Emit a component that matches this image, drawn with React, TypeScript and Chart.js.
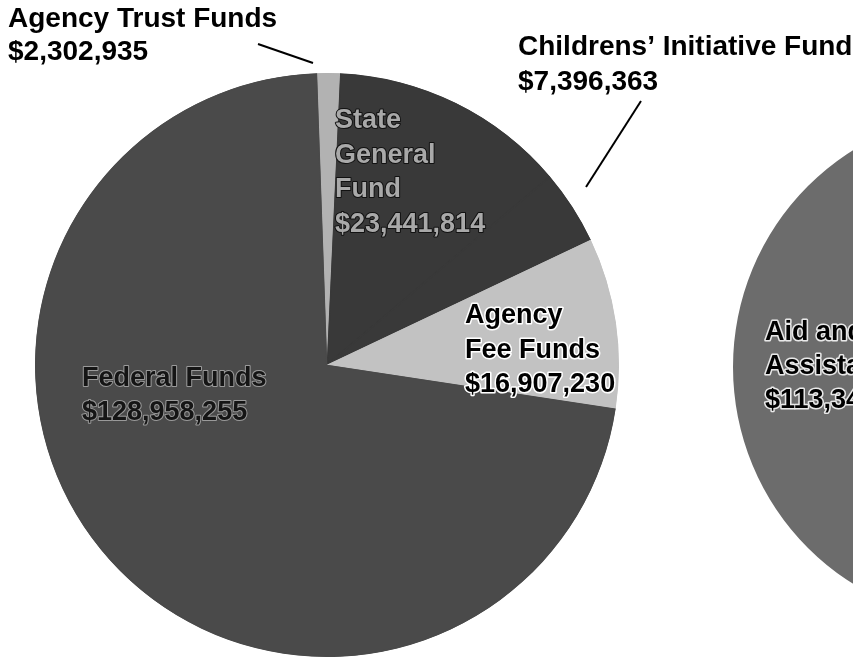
import React, { useEffect, useRef } from "react";
import { Chart, registerables } from "chart.js";

Chart.register(...registerables);

// ---- data ----
const mainCategories = [
  "Agency Trust Funds",
  "State General Fund",
  "Childrens’ Initiative Fund",
  "Agency Fee Funds",
  "Federal Funds",
];
const mainValues = [2302935, 23441814, 7396363, 16907230, 128958255];
const mainColors = ["#b2b2b2", "#393939", "#393939", "#c2c2c2", "#4a4a4a"];

const secondCategories = ["Aid and Assistance"];
const secondValues = [113340000];
const secondColors = ["#6c6c6c"];

const money = (v: number) => "$" + v.toLocaleString("en-US");

type LabelSpec = {
  lines: string[];
  dx: number;
  dy: number;
  lh: number;
  font: string;
  fill: string;
  stroke?: string;
  sw?: number;
  leader?: [number, number, number, number];
};

const FONT_OUT = 'bold 28px "Liberation Sans", Arial, sans-serif';
const FONT_IN = 'bold 27px "Liberation Sans", Arial, sans-serif';

const mainLabels: LabelSpec[] = [
  {
    lines: [mainCategories[0], money(mainValues[0])],
    dx: -319, dy: -338, lh: 33, font: FONT_OUT, fill: "#000",
    leader: [-69, -321, -14, -302],
  },
  {
    lines: ["State", "General", "Fund", money(mainValues[1])],
    dx: 8, dy: -237, lh: 34.7, font: FONT_IN, fill: "#a9a9a9", stroke: "#111", sw: 2,
  },
  {
    lines: [mainCategories[2], money(mainValues[2])],
    dx: 191, dy: -310, lh: 35, font: FONT_OUT, fill: "#000",
    leader: [314, -264, 259, -178],
  },
  {
    lines: ["Agency", "Fee Funds", money(mainValues[3])],
    dx: 138, dy: -42, lh: 34.5, font: FONT_IN, fill: "#000", stroke: "#fff", sw: 3,
  },
  {
    lines: ["Federal Funds", money(mainValues[4])],
    dx: -245, dy: 21, lh: 34, font: FONT_IN, fill: "#151515", stroke: "#9a9a9a", sw: 2,
  },
];

const secondLabels: LabelSpec[] = [
  {
    lines: ["Aid and", "Assistance", money(secondValues[0])],
    dx: -224, dy: -27, lh: 34, font: FONT_IN, fill: "#000", stroke: "#e8e8e8", sw: 3,
  },
];

function makeLabelPlugin(specs: LabelSpec[]) {
  return {
    id: "customLabels",
    afterDatasetsDraw(chart: any) {
      const arc = chart.getDatasetMeta(0).data[0];
      if (!arc) return;
      const cx = arc.x;
      const cy = arc.y;
      const ctx = chart.ctx as CanvasRenderingContext2D;
      ctx.save();
      ctx.textAlign = "left";
      ctx.textBaseline = "alphabetic";
      ctx.lineJoin = "round";
      for (const s of specs) {
        if (s.leader) {
          ctx.beginPath();
          ctx.strokeStyle = "#000";
          ctx.lineWidth = 2;
          ctx.moveTo(cx + s.leader[0], cy + s.leader[1]);
          ctx.lineTo(cx + s.leader[2], cy + s.leader[3]);
          ctx.stroke();
        }
        ctx.font = s.font;
        s.lines.forEach((t, i) => {
          const x = cx + s.dx;
          const y = cy + s.dy + i * s.lh;
          if (s.stroke) {
            ctx.strokeStyle = s.stroke;
            ctx.lineWidth = s.sw || 2;
            ctx.strokeText(t, x, y);
          }
          ctx.fillStyle = s.fill;
          ctx.fillText(t, x, y);
        });
      }
      ctx.restore();
    },
  };
}

export default function App() {
  const mainRef = useRef<HTMLCanvasElement>(null);
  const secondRef = useRef<HTMLCanvasElement>(null);

  useEffect(() => {
    const second = new Chart(secondRef.current as HTMLCanvasElement, {
      type: "pie",
      data: {
        labels: secondCategories,
        datasets: [
          {
            data: secondValues,
            backgroundColor: secondColors,
            borderWidth: 0,
            hoverOffset: 0,
          },
        ],
      },
      options: {
        responsive: false,
        animation: false,
        events: [],
        layout: { padding: 0 },
        plugins: { legend: { display: false }, tooltip: { enabled: false } },
      },
      plugins: [makeLabelPlugin(secondLabels)],
    });

    const main = new Chart(mainRef.current as HTMLCanvasElement, {
      type: "pie",
      data: {
        labels: mainCategories,
        datasets: [
          {
            data: mainValues,
            backgroundColor: mainColors,
            borderColor: mainColors,
            borderWidth: 1,
            borderAlign: "inner",
            hoverOffset: 0,
          },
        ],
      },
      options: {
        responsive: false,
        animation: false,
        events: [],
        rotation: -2,
        layout: { padding: { left: 35, top: 73, right: 234, bottom: 2 } },
        plugins: { legend: { display: false }, tooltip: { enabled: false } },
      },
      plugins: [makeLabelPlugin(mainLabels)],
    });

    return () => {
      main.destroy();
      second.destroy();
    };
  }, []);

  return (
    <div
      style={{
        position: "absolute",
        left: 0,
        top: 0,
        width: 853,
        height: 659,
        overflow: "hidden",
        background: "#fff",
      }}
    >
      <canvas
        ref={secondRef}
        width={512}
        height={512}
        style={{ position: "absolute", left: 733, top: 111, width: 512, height: 512 }}
      />
      <canvas
        ref={mainRef}
        width={853}
        height={659}
        style={{ position: "absolute", left: 0, top: 0, width: 853, height: 659 }}
      />
    </div>
  );
}
